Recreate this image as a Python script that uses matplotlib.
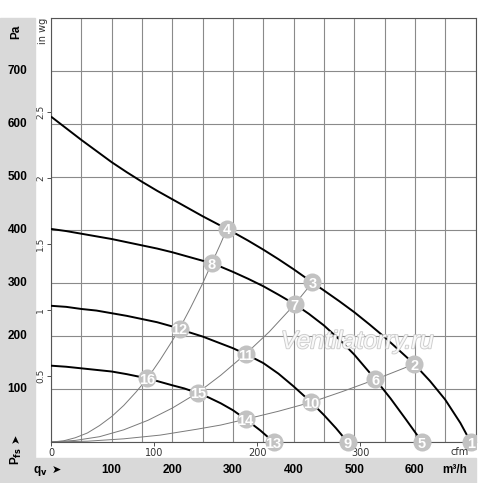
import matplotlib
matplotlib.use("Agg")
import matplotlib.pyplot as plt
import matplotlib.transforms as mtransforms
import matplotlib.patheffects as pe
from matplotlib.patches import Rectangle

# fan curves, flow in m3/h, pressure in Pa
q_curve1 = [0, 25, 50, 75, 100, 125, 150, 175, 200, 225, 250, 275, 290, 300, 325, 350, 375, 400,
            431, 450, 475, 500, 525, 550, 575, 599, 625, 650, 675, 692]
p_curve1 = [614, 592, 570, 549, 528, 509, 491, 474, 458, 442, 426, 411, 402, 396, 380, 363, 345, 326,
            301, 286, 266, 245, 222, 198, 172, 147, 115, 80, 36, 0]
q_curve2 = [0, 25, 50, 75, 100, 125, 150, 175, 200, 225, 250, 265, 275, 300, 325, 350, 375, 402,
            425, 450, 475, 500, 535, 560, 585, 612]
p_curve2 = [402, 398, 393, 388, 383, 377, 371, 365, 358, 350, 342, 337, 333, 321, 308, 294, 278, 260,
            242, 220, 194, 165, 118, 82, 43, 0]
q_curve3 = [0, 25, 50, 75, 100, 125, 150, 175, 200, 212, 225, 250, 275, 300, 321, 350, 375, 400,
            429, 450, 470, 489]
p_curve3 = [257, 255, 251, 248, 243, 238, 232, 226, 218, 213, 208, 199, 188, 177, 166, 149, 129, 105,
            75, 51, 26, 0]
q_curve4 = [0, 25, 50, 75, 100, 125, 159, 175, 200, 220, 240, 260, 280, 300, 321, 345, 367]
p_curve4 = [144, 142, 139, 136, 133, 128, 120, 115, 107, 101, 93, 84, 73, 60, 43, 22, 0]

# system curves
q_sys1 = [0, 20, 40, 60, 80, 100, 120, 140, 159, 180, 200, 212, 230, 250, 265, 280, 290]
p_sys1 = [0, 2, 8, 17, 31, 48, 69, 94, 120, 155, 191, 214, 253, 299, 337, 375, 402]
q_sys2 = [0, 40, 80, 120, 160, 200, 242, 280, 321, 360, 402, 431]
p_sys2 = [0, 3, 10, 23, 41, 64, 93, 126, 166, 208, 260, 301]
q_sys3 = [0, 60, 120, 180, 240, 280, 321, 375, 429, 480, 535, 599]
p_sys3 = [0, 1.5, 6, 13, 24, 32, 43, 58, 75, 95, 118, 147]

# numbered operating points
point_ids = [1, 2, 3, 4, 5, 6, 7, 8, 9, 10, 11, 12, 13, 14, 15, 16]
point_q = [692, 599, 431, 290, 612, 535, 402, 265, 489, 429, 321, 212, 367, 321, 242, 159]
point_p = [0, 147, 301, 402, 0, 118, 260, 337, 0, 75, 166, 214, 0, 43, 93, 120]

pa_ticks = [100, 200, 300, 400, 500, 600, 700]
m3h_ticks = [100, 200, 300, 400, 500, 600]
cfm_ticks = [0, 100, 200, 300]
inwg_ticks = [0.5, 1, 1.5, 2, 2.5]

BAND = '#d9d9d9'
GRID = '#8a8a8a'
BOLD = ['Liberation Sans', 'DejaVu Sans']
NARROW = ['Liberation Sans Narrow', 'Liberation Sans', 'DejaVu Sans']

fig = plt.figure(figsize=(5, 4.83), dpi=100)
W, H = 500, 483

# gray bands on the left and at the bottom
fig.patches.append(Rectangle((0, 0), 35 / W, (H - 18) / H, transform=fig.transFigure,
                             color=BAND, zorder=0))
fig.patches.append(Rectangle((0, 0), 475.5 / W, (H - 458) / H, transform=fig.transFigure,
                             color=BAND, zorder=0))

ax = fig.add_axes([51 / W, (H - 442) / H, (475.5 - 51) / W, (442 - 18) / H])
ax.set_xlim(0, 700)
ax.set_ylim(0, 800)
ax.set_xticks(range(0, 701, 50))
ax.set_yticks(range(0, 801, 100))
ax.tick_params(length=0, labelbottom=False, labelleft=False)
ax.grid(True, color=GRID, lw=0.8)
ax.set_axisbelow(True)
for s in ax.spines.values():
    s.set_color('#555555')
    s.set_linewidth(0.8)

for q, p in [(q_sys1, p_sys1), (q_sys2, p_sys2), (q_sys3, p_sys3)]:
    ax.plot(q, p, color='#7a7a7a', lw=0.7, zorder=2)
for q, p in [(q_curve1, p_curve1), (q_curve2, p_curve2),
             (q_curve3, p_curve3), (q_curve4, p_curve4)]:
    ax.plot(q, p, color='black', lw=1.4, zorder=3, solid_capstyle='butt', solid_joinstyle='round')

clip = Rectangle((0, -0.05), 1, 1.1, transform=ax.transAxes, visible=False)
ax.add_patch(clip)
for n, q, p in zip(point_ids, point_q, point_p):
    dot, = ax.plot(q, p, 'o', ms=13, color='#c2c2c2', mec='none', zorder=4, clip_on=True)
    dot.set_clip_path(clip)
    t = ax.text(q, p, str(n), color='white', fontsize=10.5, fontweight='bold',
                family=NARROW, ha='center', va='center_baseline', zorder=5)
    t.set_clip_path(clip)

# watermark
ax.text(505, 190, 'Ventilatorry.ru', fontsize=18, style='italic', family=['Liberation Sans', 'DejaVu Sans'],
        color='white', alpha=0.85, ha='center', va='center', zorder=6,
        path_effects=[pe.withStroke(linewidth=1.3, foreground='#c4c4c4')])

# secondary scales: in wg and cfm
inwg = ax.secondary_yaxis('left', functions=(lambda p: p / 249.1, lambda w: w * 249.1))
inwg.set_yticks(inwg_ticks)
inwg.set_yticklabels([f'{v:g}' for v in inwg_ticks], rotation=90, va='center')
inwg.tick_params(length=3, width=0.6, pad=1, labelsize=6.5, colors='#333333')
inwg.spines['left'].set_visible(False)

cfm = ax.secondary_xaxis('bottom', functions=(lambda q: q / 1.699, lambda c: c * 1.699))
cfm.set_xticks(cfm_ticks)
cfm.tick_params(length=3, width=0.6, pad=1, labelsize=7, colors='#333333')
cfm.spines['bottom'].set_visible(False)

fig.text(460 / W, 1 - 452 / H, 'cfm', fontsize=7, ha='center', va='center', color='#333333')
fig.text(43 / W, 1 - 31 / H, 'in wg', fontsize=7, rotation=90, ha='center', va='center', color='#333333')

# Pa labels in the left band
ytr = mtransforms.blended_transform_factory(fig.transFigure, ax.transData)
for v in pa_ticks:
    fig.text(17.5 / W, v, str(v), transform=ytr, fontsize=8.5, fontweight='bold',
             family=BOLD, ha='center', va='center')
fig.text(16 / W, 1 - 32 / H, 'Pa', fontsize=8.5, fontweight='bold', family=BOLD,
         rotation=90, ha='center', va='center')
fig.text(16 / W, 1 - 438 / H, '➤', fontsize=8, rotation=90, ha='center', va='center',
         family='DejaVu Sans')
fig.text(16 / W, 1 - 456 / H, r'P$_{\mathbf{fs}}$', fontsize=8.5, fontweight='bold', family=BOLD,
         rotation=90, ha='center', va='center')

# m3/h labels in the bottom band
xtr = mtransforms.blended_transform_factory(ax.transData, fig.transFigure)
for v in m3h_ticks:
    fig.text(v, 1 - 470 / H, str(v), transform=xtr, fontsize=8.5, fontweight='bold',
             family=BOLD, ha='center', va='center')
fig.text(455 / W, 1 - 470 / H, 'm³/h', fontsize=8.5, fontweight='bold', family=BOLD,
         ha='center', va='center')
fig.text(40 / W, 1 - 471 / H, r'q$_{\mathbf{v}}$', fontsize=8.5, fontweight='bold', family=BOLD,
         ha='center', va='center')
fig.text(56 / W, 1 - 470 / H, '➤', fontsize=8, ha='center', va='center', family='DejaVu Sans')

fig.savefig('out.png', dpi=100, facecolor='white')
